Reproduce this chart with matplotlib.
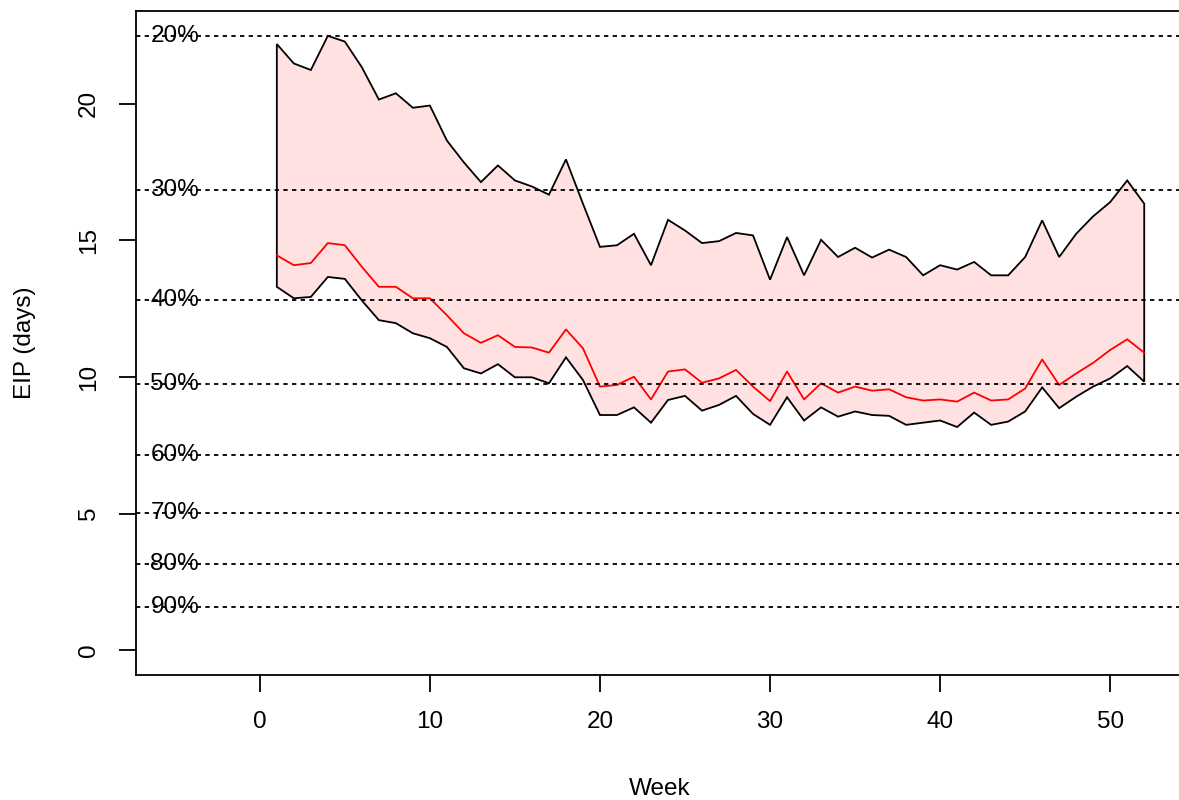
import matplotlib

matplotlib.use("Agg")

import matplotlib.pyplot as plt
import numpy as np

plt.rcParams["font.family"] = ["Liberation Sans", "DejaVu Sans"]

# EIP quantile band per week
weeks = np.arange(1, 53)
upper = [22.18, 21.47, 21.23, 22.48, 22.27, 21.33, 20.15, 20.38, 19.85, 19.93,
         18.65, 17.85, 17.13, 17.74, 17.19, 16.97, 16.67, 17.96, 16.34, 14.76,
         14.82, 15.24, 14.09, 15.75, 15.36, 14.90, 14.97, 15.27, 15.18, 13.56,
         15.12, 13.72, 15.02, 14.39, 14.73, 14.37, 14.66, 14.39, 13.72, 14.09,
         13.93, 14.21, 13.72, 13.72, 14.39, 15.73, 14.39, 15.24, 15.88, 16.40,
         17.19, 16.34]
median = [14.45, 14.09, 14.17, 14.90, 14.82, 14.03, 13.30, 13.30, 12.88, 12.88,
          12.26, 11.60, 11.25, 11.53, 11.10, 11.08, 10.89, 11.74, 11.05, 9.65,
          9.71, 10.01, 9.18, 10.20, 10.28, 9.79, 9.95, 10.26, 9.65, 9.12,
          10.20, 9.18, 9.77, 9.43, 9.65, 9.50, 9.55, 9.26, 9.14, 9.18,
          9.10, 9.43, 9.14, 9.18, 9.58, 10.64, 9.71, 10.13, 10.52, 10.99,
          11.38, 10.89]
lower = [13.30, 12.88, 12.93, 13.66, 13.59, 12.80, 12.08, 11.97, 11.60, 11.42,
         11.10, 10.32, 10.13, 10.47, 9.99, 9.99, 9.77, 10.72, 9.89, 8.61,
         8.61, 8.89, 8.33, 9.16, 9.31, 8.77, 8.98, 9.31, 8.65, 8.25,
         9.26, 8.41, 8.89, 8.55, 8.74, 8.61, 8.58, 8.25, 8.33, 8.41,
         8.17, 8.70, 8.25, 8.37, 8.74, 9.62, 8.86, 9.28, 9.65, 9.95,
         10.40, 9.83]

# survival reference lines
surv_labels = ["20%", "30%", "40%", "50%", "60%", "70%", "80%", "90%"]
surv_eip = [22.48, 16.85, 12.83, 9.73, 7.15, 5.04, 3.15, 1.58]

x_ticks = [0, 10, 20, 30, 40, 50]
y_ticks = [0, 5, 10, 15, 20]

W, H = 1179, 800
fig = plt.figure(figsize=(W / 100, H / 100), dpi=100)
# right spine falls just outside the canvas, as in the reference
ax = fig.add_axes([136 / W, (H - 675) / H, (1183 - 136) / W, (675 - 10.7) / H])

poly_x = np.concatenate([weeks, weeks[::-1]])
poly_y = np.concatenate([upper, lower[::-1]])
ax.fill(poly_x, poly_y, facecolor="#FFE1E1", edgecolor="black", linewidth=1.3, zorder=1)
ax.plot(weeks, median, color="#FF0000", linewidth=1.3, zorder=2)

for lab, y in zip(surv_labels, surv_eip):
    ax.axhline(y, color="black", linewidth=1.3, dashes=(2.4, 2.4), zorder=3)
    ax.text(-5, y, lab, ha="center", va="center", fontsize=17.5, zorder=4)

ax.set_xlim(-7.28, 54.28)
ax.set_ylim(-0.9, 23.4)
ax.set_xticks(x_ticks)
ax.set_yticks(y_ticks)
ax.set_yticklabels([str(t) for t in y_ticks], rotation=90, va="center")
ax.tick_params(axis="both", length=12, width=1.3, labelsize=17.5)
ax.tick_params(axis="x", pad=14)
ax.tick_params(axis="y", pad=14)
for spine in ax.spines.values():
    spine.set_linewidth(1.3)

fig.text(659.5 / W, 1 - 789 / H, "Week", ha="center", va="center", fontsize=17.5)
fig.text(25 / W, 1 - 343 / H, "EIP (days)", ha="center", va="center",
         rotation=90, fontsize=17.5)

fig.savefig("out.png", dpi=100)
